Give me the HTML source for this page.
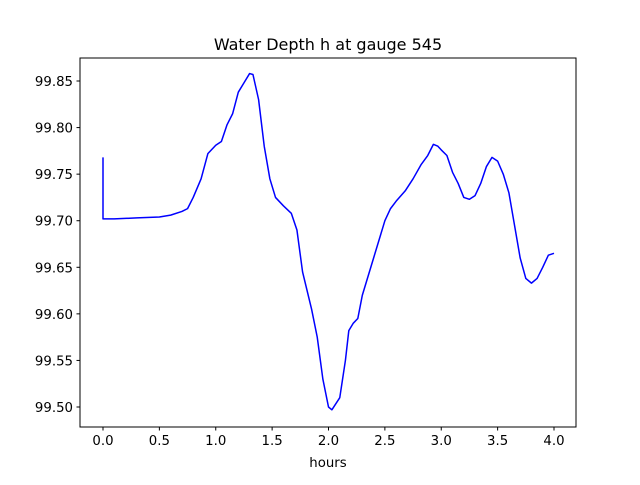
<!DOCTYPE html>
<html><head><meta charset="utf-8"><style>
body{margin:0;background:#fff;}
svg text{font-family:"DejaVu Sans","Liberation Sans",sans-serif;fill:#000;}
</style></head><body>
<svg id="chart" width="640" height="480" xmlns="http://www.w3.org/2000/svg">
<rect width="640" height="480" fill="#fff"/>
<text x="328" y="50" font-size="16" text-anchor="middle">Water Depth h at gauge 545</text>
<g id="ticks"></g>
<path id="series" fill="none" stroke="#0000ff" stroke-width="1.5" stroke-linejoin="round"/>
<rect x="80" y="58" width="496" height="369" fill="none" stroke="#000" stroke-width="1"/>
<text x="328" y="467" font-size="13.3" text-anchor="middle">hours</text>
</svg>
<script>
const hours=[0,0,0.1,0.3,0.5,0.6,0.7,0.75,0.8,0.87,0.93,1.0,1.05,1.1,1.15,1.2,1.25,1.3,1.33,1.38,1.43,1.48,1.53,1.6,1.67,1.72,1.77,1.85,1.9,1.95,2.0,2.03,2.1,2.15,2.18,2.22,2.26,2.3,2.4,2.5,2.55,2.6,2.68,2.75,2.82,2.88,2.93,2.97,3.0,3.05,3.1,3.15,3.2,3.25,3.3,3.35,3.4,3.45,3.5,3.55,3.6,3.65,3.7,3.75,3.8,3.85,3.9,3.95,4.0];
const depth=[99.768,99.702,99.702,99.703,99.704,99.706,99.71,99.713,99.725,99.745,99.772,99.781,99.785,99.803,99.815,99.838,99.848,99.858,99.857,99.830,99.780,99.745,99.725,99.716,99.708,99.690,99.645,99.605,99.575,99.530,99.500,99.497,99.510,99.550,99.582,99.590,99.595,99.620,99.660,99.700,99.713,99.721,99.732,99.745,99.760,99.770,99.782,99.780,99.776,99.770,99.752,99.740,99.725,99.723,99.727,99.740,99.758,99.768,99.764,99.750,99.730,99.695,99.660,99.638,99.633,99.638,99.650,99.663,99.665];
const xTicks=[0,0.5,1,1.5,2,2.5,3,3.5,4];
const xTickLabels=["0.0","0.5","1.0","1.5","2.0","2.5","3.0","3.5","4.0"];
const yTicks=[99.50,99.55,99.60,99.65,99.70,99.75,99.80,99.85];
const yTickLabels=["99.50","99.55","99.60","99.65","99.70","99.75","99.80","99.85"];
const X=v=>103+v*112.75;
const Y=v=>407-(v-99.50)*931.4;
const NS="http://www.w3.org/2000/svg";
const g=document.getElementById('ticks');
function mk(tag,attrs){const e=document.createElementNS(NS,tag);for(const k in attrs)e.setAttribute(k,attrs[k]);g.appendChild(e);return e;}
xTicks.forEach((t,i)=>{
 const l=mk('line',{x1:X(t),x2:X(t),y1:427,y2:430.5,stroke:'#000'});
 
 
 const tx=mk('text',{x:X(t),y:445,'font-size':'13.3','text-anchor':'middle'});
 tx.textContent=xTickLabels[i];
 
 
});
yTicks.forEach((t,i)=>{
 const l=mk('line',{x1:76.5,x2:80,y1:Y(t),y2:Y(t),stroke:'#000'});
 
 
 const tx=mk('text',{x:73,y:Y(t)+5,'font-size':'13.3','text-anchor':'end'});
 tx.textContent=yTickLabels[i];
 
 
});
let d='';
hours.forEach((h,i)=>{d+=(i?'L':'M')+X(h).toFixed(2)+','+Y(depth[i]).toFixed(2);});
document.getElementById('series').setAttribute('d',d);
</script>
</body></html>
